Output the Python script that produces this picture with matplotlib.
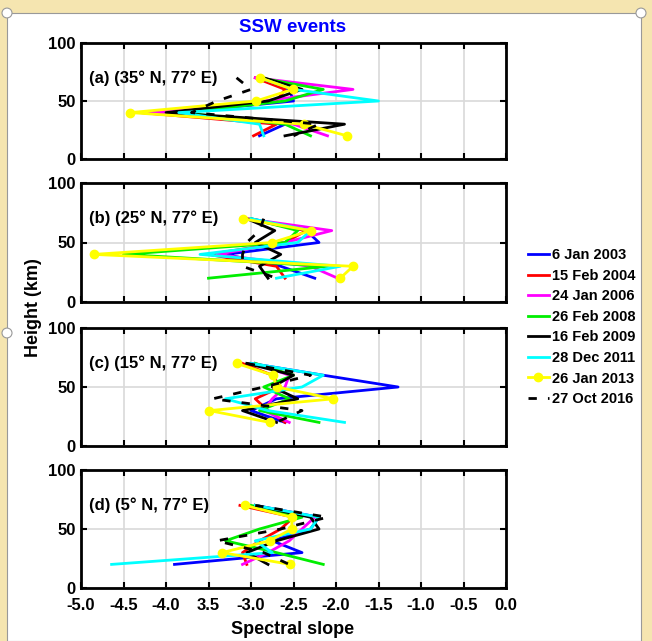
import matplotlib.pyplot as plt
from matplotlib.patches import Rectangle, Circle

plt.rcParams['font.family'] = ['Liberation Sans', 'DejaVu Sans']
plt.rcParams['font.weight'] = 'bold'
plt.rcParams['axes.labelweight'] = 'bold'

# Heights (km) at which spectral slopes are given
heights = [70, 60, 50, 40, 30, 20]

events = ['6 Jan 2003', '15 Feb 2004', '24 Jan 2006', '26 Feb 2008',
          '16 Feb 2009', '28 Dec 2011', '26 Jan 2013', '27 Oct 2016']
colors = ['#0000ff', '#ff0000', '#ff00ff', '#00ee00', '#000000', '#00ffff', '#ffff00', '#000000']

panel_titles = ['(a) (35° N, 77° E)', '(b) (25° N, 77° E)',
                '(c) (15° N, 77° E)', '(d) (5° N, 77° E)']

# spectral slopes, one row per event (same order as events), values at heights
slopes_a = [
    [-2.90, -2.55, -2.50, -3.90, -2.60, -2.90],
    [-2.95, -2.60, -2.70, -4.30, -2.70, -2.97],
    [-2.95, -1.80, -2.85, -4.20, -2.50, -2.10],
    [-2.90, -2.15, -2.60, -3.80, -2.60, -2.30],
    [-2.85, -2.40, -2.80, -4.00, -1.90, -2.60],
    [-2.90, -2.50, -1.50, -3.85, -2.90, -2.85],
    [-2.89, -2.51, -2.94, -4.42, -2.38, -1.87],
    [-3.17, -3.00, -3.40, -3.70, -2.20, -2.50],
]
slopes_b = [
    [-3.00, -2.35, -2.20, -3.30, -2.65, -2.25],
    [-3.05, -2.35, -2.60, -3.50, -2.70, -2.60],
    [-3.05, -2.05, -2.60, -3.40, -2.30, -1.98],
    [-3.00, -2.45, -2.60, -4.50, -2.10, -3.50],
    [-3.05, -2.72, -2.95, -2.65, -2.90, -2.80],
    [-3.00, -2.30, -2.45, -3.60, -1.95, -2.70],
    [-3.10, -2.30, -2.75, -4.85, -1.80, -1.95],
    [-2.85, -2.90, -3.05, -3.10, -3.10, -2.70],
]
slopes_c = [
    [-3.00, -2.15, -1.27, -2.70, -3.00, -2.60],
    [-3.10, -2.75, -2.65, -2.95, -2.80, -2.60],
    [-2.95, -2.55, -2.60, -2.75, -2.85, -2.55],
    [-2.95, -2.50, -2.85, -2.55, -2.90, -2.20],
    [-3.05, -2.50, -2.75, -2.45, -3.10, -2.70],
    [-3.00, -2.15, -2.40, -3.30, -2.80, -1.90],
    [-3.17, -2.74, -2.70, -2.03, -3.49, -2.78],
    [-3.05, -2.30, -2.85, -3.45, -2.40, -2.70],
]
slopes_d = [
    [-2.95, -2.20, -2.30, -2.75, -2.40, -3.90],
    [-3.13, -2.50, -2.65, -2.90, -3.10, -3.05],
    [-2.95, -2.25, -2.40, -2.55, -2.80, -3.10],
    [-3.00, -2.40, -2.90, -3.30, -2.70, -2.15],
    [-2.95, -2.30, -2.20, -2.70, -3.05, -2.80],
    [-2.95, -2.20, -2.30, -2.95, -2.75, -4.64],
    [-3.07, -2.52, -2.52, -2.78, -3.34, -2.54],
    [-2.95, -2.10, -2.65, -3.40, -2.85, -2.55],
]
all_slopes = [slopes_a, slopes_b, slopes_c, slopes_d]

xticks = [-5.0, -4.5, -4.0, -3.5, -3.0, -2.5, -2.0, -1.5, -1.0, -0.5, 0.0]
xtick_labels = ['-5.0', '-4.5', '-4.0', '3.5', '-3.0', '-2.5', '-2.0', '-1.5', '-1.0', '-0.5', '0.0']

W, H = 652, 641
fig = plt.figure(figsize=(W / 100, H / 100), dpi=100, facecolor='#f5e5b0')

# white page with the screenshot frame
fig.patches.append(Rectangle((7 / W, 0), (641 - 7) / W, 1 - 13 / H, transform=fig.transFigure,
                             facecolor='white', edgecolor='#999999', lw=0.8, zorder=-10))
for cx, cy in [(7, 13), (641, 13), (7, 333)]:
    fig.patches.append(Circle((cx / W, 1 - cy / H), 5 / W, transform=fig.transFigure,
                              facecolor='white', edgecolor='#999999', lw=0.8, zorder=10))

# panel boxes in pixels: (top, bottom)
boxes = [(43, 159), (183, 302), (328, 446), (470, 588)]
left, right = 81, 506

axes = []
for i, (top, bot) in enumerate(boxes):
    ax = fig.add_axes([left / W, 1 - bot / H, (right - left) / W, (bot - top) / H])
    axes.append(ax)
    for j, ev in enumerate(events):
        if j == 6:
            ax.plot(all_slopes[i][j], heights, color=colors[j], lw=2, marker='o', ms=6, label=ev)
        elif j == 7:
            ax.plot(all_slopes[i][j], heights, color=colors[j], lw=2, dashes=(3, 4), label=ev)
        else:
            ax.plot(all_slopes[i][j], heights, color=colors[j], lw=2, label=ev)
    ax.set_xlim(-5, 0)
    ax.set_ylim(0, 100)
    ax.set_xticks(xticks)
    ax.set_yticks([0, 50, 100])
    ax.grid(True, color='#d9d9d9', lw=1.2)
    ax.set_axisbelow(True)
    ax.tick_params(direction='in', length=4, width=1.5, labelsize=12, top=True, right=True)
    ax.tick_params(axis='y', pad=4)
    ax.tick_params(axis='x', pad=7)
    for s in ax.spines.values():
        s.set_linewidth(2)
    ax.text(-4.9, 70, panel_titles[i], fontsize=12, fontweight='bold', va='center', ha='left')
    if i < 3:
        ax.set_xticklabels([])
    else:
        ax.set_xticklabels(xtick_labels)

fig.text(293 / W, 1 - 27 / H, 'SSW events', color='#0000ff', fontsize=13.5,
         fontweight='bold', ha='center', va='center')
fig.text(293 / W, 1 - 630 / H, 'Spectral slope', fontsize=13,
         fontweight='bold', ha='center', va='center')
fig.text(33 / W, 1 - 308 / H, 'Height (km)', fontsize=13, fontweight='bold',
         rotation=90, ha='center', va='center')

handles, labels = axes[0].get_legend_handles_labels()
fig.legend(handles, labels, loc='upper left', bbox_to_anchor=(518 / W, 1 - 238 / H),
           frameon=False, fontsize=10.5, handlelength=1.4, handletextpad=0.2,
           labelspacing=0.45, borderpad=0.2)

fig.savefig('out.png', dpi=100, facecolor=fig.get_facecolor())
